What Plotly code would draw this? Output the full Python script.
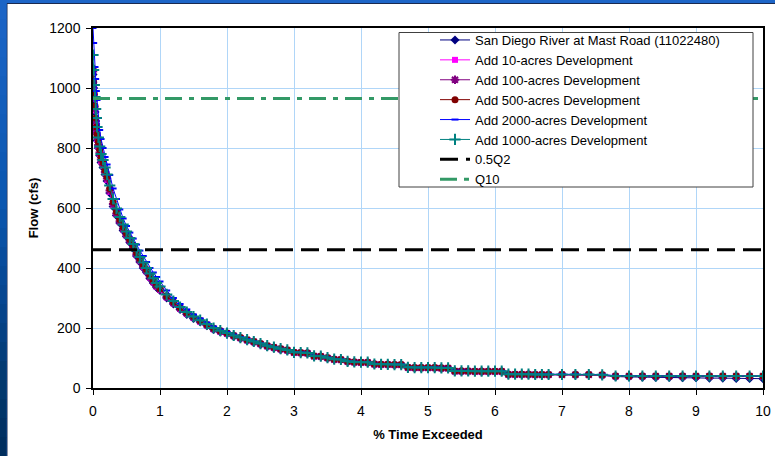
import plotly.graph_objects as go

# ---------------- data ----------------
pct_time = [0.00, 0.01, 0.02, 0.03, 0.04, 0.05, 0.06, 0.08,
            0.10, 0.12, 0.15, 0.18, 0.21, 0.25,
            0.30, 0.35, 0.40, 0.45, 0.50, 0.55, 0.60, 0.65, 0.70, 0.75, 0.80, 0.85, 0.90, 0.95,
            1.0, 1.1, 1.2, 1.3, 1.4, 1.5, 1.6, 1.7, 1.8, 1.9, 2.0, 2.1, 2.2, 2.3, 2.4, 2.5, 2.6, 2.7, 2.8, 2.9,
            3.0, 3.1, 3.2, 3.3, 3.4, 3.5, 3.6, 3.7, 3.8, 3.9,
            4.0, 4.1, 4.2, 4.3, 4.4, 4.5, 4.6, 4.7, 4.8, 4.9,
            5.0, 5.1, 5.2, 5.3, 5.4, 5.5, 5.6, 5.7, 5.8, 5.9,
            6.0, 6.1, 6.2, 6.3, 6.4, 6.5, 6.6, 6.7, 6.8,
            7.0, 7.2, 7.4, 7.6, 7.8, 8.0, 8.2, 8.4, 8.6, 8.8, 9.0, 9.2, 9.4, 9.6, 9.8, 10.0]

flow_existing = [1045, 1000, 960, 920, 880, 850, 825, 800,
                 775, 752, 735, 712, 690, 650,
                 605, 575, 550, 525, 505, 485, 465, 440, 420, 400, 385, 365, 350, 335,
                 325, 300, 280, 262, 245, 232, 220, 208, 195, 187, 180, 172, 165, 158, 152, 145, 138, 133, 128, 124,
                 118, 117, 116, 106, 105, 100, 95, 94, 88, 86,
                 85, 85, 79, 78, 78, 77, 77, 68, 67, 67,
                 67, 67, 66, 66, 56, 56, 56, 55, 55, 55,
                 55, 55, 45, 45, 45, 45, 44, 44, 44,
                 44, 44, 44, 42, 38, 37, 36, 35, 35, 34, 34, 33, 33, 32, 32, 31]

flow_10ac = [1050, 1005, 965, 925, 885, 855, 830, 805,
             780, 757, 740, 716, 694, 654,
             609, 579, 553, 528, 508, 488, 468, 443, 423, 403, 388, 368, 352, 337,
             327, 302, 282, 264, 247, 234, 221, 209, 196, 188, 181, 173, 166, 159, 153, 146, 139, 134, 129, 125,
             118, 117, 116, 106, 105, 100, 95, 94, 88, 86,
             85, 85, 79, 78, 78, 77, 77, 68, 67, 67,
             67, 67, 66, 66, 56, 56, 56, 55, 55, 55,
             55, 55, 45, 45, 45, 45, 44, 44, 44,
             44, 44, 44, 43, 39, 39, 39, 39, 39, 39, 39, 39, 39, 39, 39, 39]

flow_100ac = [1055, 1010, 970, 930, 890, 860, 835, 810,
              785, 762, 744, 720, 698, 658,
              613, 582, 556, 531, 511, 491, 471, 446, 426, 406, 391, 371, 355, 340,
              329, 304, 284, 266, 249, 236, 223, 210, 197, 189, 182, 174, 167, 160, 154, 147, 140, 135, 130, 126,
              118, 117, 116, 106, 105, 100, 95, 94, 88, 86,
              85, 85, 79, 78, 78, 77, 77, 68, 67, 67,
              67, 67, 66, 66, 56, 56, 56, 55, 55, 55,
              55, 55, 45, 45, 45, 45, 44, 44, 44,
              44, 44, 44, 43, 39, 39, 39, 39, 39, 39, 39, 39, 39, 39, 39, 39]

flow_500ac = [1065, 1020, 980, 940, 900, 870, 845, 820,
              795, 770, 752, 727, 705, 665,
              620, 588, 562, 537, 516, 496, 476, 451, 431, 411, 395, 375, 359, 344,
              332, 307, 287, 268, 251, 238, 225, 212, 199, 191, 183, 175, 168, 161, 155, 148, 141, 136, 131, 127,
              119, 118, 117, 107, 106, 101, 96, 95, 89, 87,
              86, 86, 80, 79, 79, 78, 78, 69, 68, 68,
              68, 68, 67, 67, 57, 57, 57, 56, 56, 56,
              56, 56, 46, 46, 46, 46, 45, 45, 45,
              45, 45, 45, 44, 40, 40, 40, 40, 40, 40, 40, 40, 40, 40, 40, 40]

flow_2000ac = [1200, 1150, 1110, 1070, 1030, 990, 960, 900,
               860, 830, 800, 770, 745, 710,
               665, 630, 595, 565, 540, 518, 498, 478, 458, 440, 420, 400, 385, 370,
               355, 325, 300, 280, 262, 245, 232, 218, 205, 195, 187, 178, 170, 163, 156, 149, 142, 137, 131, 127,
               120, 119, 118, 108, 107, 102, 97, 96, 90, 88,
               87, 87, 81, 80, 80, 79, 79, 70, 69, 69,
               69, 69, 68, 68, 58, 58, 58, 57, 57, 57,
               57, 57, 47, 47, 47, 47, 46, 46, 46,
               46, 46, 45, 45, 41, 41, 41, 41, 41, 41, 41, 40, 40, 40, 40, 40]

flow_1000ac = [1110, 1060, 1010, 970, 930, 900, 870, 835,
               805, 780, 760, 735, 712, 675,
               630, 598, 570, 545, 522, 500, 480, 458, 437, 418, 400, 382, 366, 350,
               338, 312, 290, 270, 253, 238, 226, 213, 200, 191, 183, 175, 168, 161, 155, 148, 141, 136, 131, 127,
               119, 118, 117, 107, 106, 101, 96, 95, 89, 87,
               86, 86, 80, 79, 79, 78, 78, 69, 68, 68,
               68, 68, 67, 67, 57, 57, 57, 56, 56, 56,
               56, 56, 46, 46, 46, 46, 45, 45, 45,
               45, 45, 45, 44, 40, 40, 40, 40, 40, 40, 40, 40, 40, 40, 40, 40]

ref_x = [0, 10]
half_q2 = [461, 461]
q10 = [965, 965]

series_names = ["San Diego River at Mast Road (11022480)", "Add 10-acres Development",
                "Add 100-acres Development", "Add 500-acres Development",
                "Add 2000-acres Development", "Add 1000-acres Development"]
x_ticks = [0, 1, 2, 3, 4, 5, 6, 7, 8, 9, 10]
y_ticks = [0, 200, 400, 600, 800, 1000, 1200]

for s in [flow_existing, flow_10ac, flow_100ac, flow_500ac, flow_2000ac, flow_1000ac]:
    assert len(s) == len(pct_time)

# ---------------- layout geometry ----------------
W, H = 775, 456
ML, MR, MT, MB = 93, 12, 28, 68
PW, PH = W - ML - MR, H - MT - MB


def px(xp):
    return (xp - ML) / PW


def py(yp):
    return (H - MB - yp) / PH


FONT = "Arial, 'Liberation Sans', sans-serif"

fig = go.Figure()

styles = [
    dict(color="#000080", symbol="diamond", size=7, lw=1),
    dict(color="#FF00FF", symbol="square", size=6, lw=1),
    dict(color="#800080", symbol="asterisk-open", size=7, lw=1),
    dict(color="#800000", symbol="circle", size=7, lw=1),
    dict(color="#0000FF", symbol="line-ew-open", size=5, lw=1),
    dict(color="#008080", symbol="cross-thin-open", size=8, lw=1),
]
all_series = [flow_existing, flow_10ac, flow_100ac, flow_500ac, flow_2000ac, flow_1000ac]

for name, ys, st in zip(series_names, all_series, styles):
    open_sym = st["symbol"].endswith("open")
    fig.add_trace(go.Scatter(
        x=pct_time, y=ys, name=name, mode="lines+markers",
        line=dict(color=st["color"], width=st["lw"]),
        marker=dict(symbol=st["symbol"], size=st["size"], color=st["color"],
                    line=dict(color=st["color"], width=2 if open_sym else 0)),
    ))

fig.add_trace(go.Scatter(x=ref_x, y=half_q2, name="0.5Q2", mode="lines",
                         line=dict(color="black", width=3, dash="18px,8px")))
fig.add_trace(go.Scatter(x=ref_x, y=q10, name="Q10", mode="lines",
                         line=dict(color="#339966", width=3, dash="17px,7px,5px,7px")))

# ---------------- background shapes ----------------
shapes = []
# white chart area
shapes.append(dict(type="rect", xref="paper", yref="paper", layer="below",
                   x0=px(7), x1=px(780), y0=py(460), y1=py(3.5),
                   fillcolor="white", line=dict(color="#1a2a50", width=1)))
# left gradient strip
grad = [(0, (29, 102, 200)), (200, (11, 87, 176)), (300, (7, 71, 144)), (380, (3, 58, 112)), (456, (0, 45, 92))]
nseg = 24
for i in range(nseg):
    y0p = H * i / nseg
    y1p = H * (i + 1) / nseg
    ym = (y0p + y1p) / 2
    for (a, ca), (b, cb) in zip(grad[:-1], grad[1:]):
        if a <= ym <= b:
            t = (ym - a) / (b - a)
            c = tuple(int(ca[k] + (cb[k] - ca[k]) * t) for k in range(3))
            break
    shapes.append(dict(type="rect", xref="paper", yref="paper", layer="below",
                       x0=px(-1), x1=px(6.5), y0=py(y1p + 0.5), y1=py(y0p),
                       fillcolor="rgb(%d,%d,%d)" % c, line=dict(width=0)))
# legend frame
shapes.append(dict(type="rect", xref="paper", yref="paper", layer="above",
                   x0=px(399), x1=px(753), y0=py(187), y1=py(32.5),
                   fillcolor="white", line=dict(color="#404040", width=1)))

fig.update_layout(
    width=W, height=H,
    margin=dict(l=ML, r=MR, t=MT, b=MB, pad=0, autoexpand=False),
    paper_bgcolor="#1d66c8", plot_bgcolor="white",
    font=dict(family=FONT, color="black", size=14),
    shapes=shapes,
    showlegend=True,
    legend=dict(x=px(435), y=py(25), xanchor="left", yanchor="top",
                bgcolor="rgba(0,0,0,0)", borderwidth=0,
                font=dict(family=FONT, size=13, color="black"),
                itemwidth=30, tracegroupgap=0),
    xaxis=dict(range=[0, 10], tickvals=x_ticks, ticktext=[str(v) for v in x_ticks],
               showgrid=True, gridcolor="#b0d6f8", gridwidth=1, zeroline=False,
               showline=True, linecolor="black", linewidth=1.5, mirror=True,
               ticks="outside", ticklen=5, tickcolor="black", tickwidth=1,
               ticklabelstandoff=4,
               tickfont=dict(size=14, family=FONT),
               title=dict(text="<b>% Time Exceeded</b>", font=dict(size=13, family=FONT), standoff=12)),
    yaxis=dict(range=[0, 1200], tickvals=y_ticks, ticktext=[str(v) for v in y_ticks],
               showgrid=True, gridcolor="#b0d6f8", gridwidth=1, zeroline=False,
               showline=True, linecolor="black", linewidth=1.5, mirror=True,
               ticks="outside", ticklen=5, tickcolor="black", tickwidth=1,
               ticklabelstandoff=3,
               tickfont=dict(size=14, family=FONT),
               title=dict(text="<b>Flow (cfs)</b>", font=dict(size=13, family=FONT), standoff=8)),
)

fig.write_html("out.html", config={"displayModeBar": False},
               post_script="document.body.style.margin='0px';document.body.style.overflow='hidden';")
